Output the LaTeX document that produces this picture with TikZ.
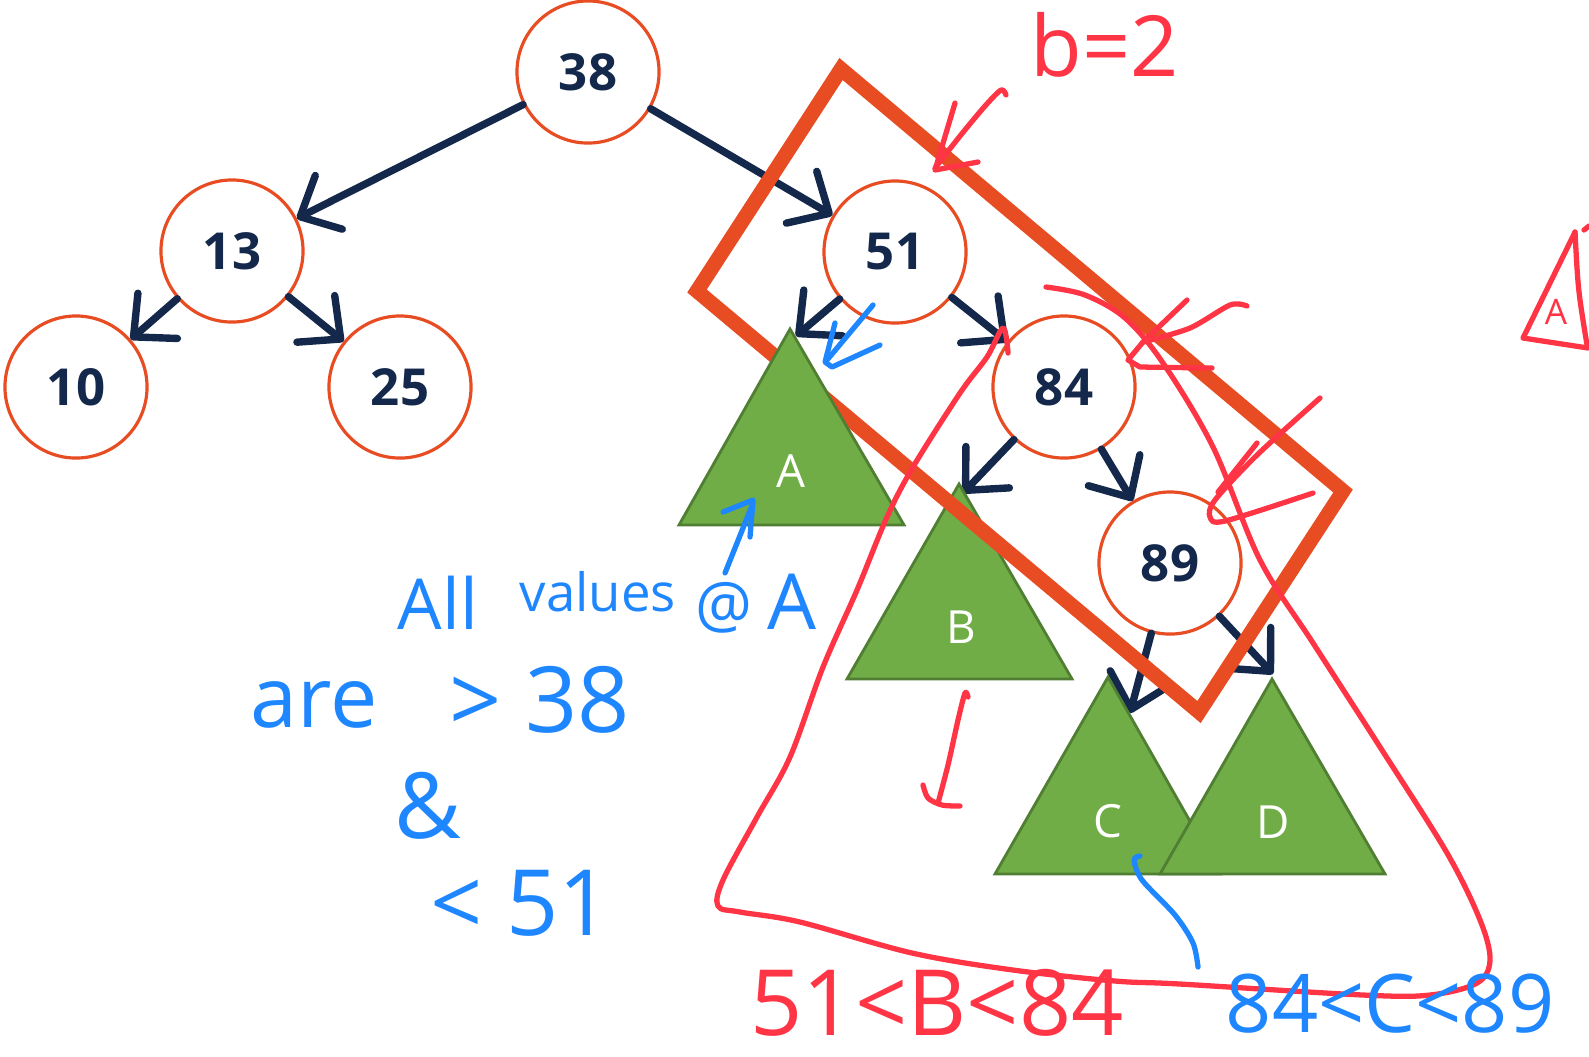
\documentclass[tikz,border=0pt]{standalone}
\usepackage{fontspec}
\setmainfont{Open Sans}
\usetikzlibrary{arrows.meta}

\definecolor{keyorange}{HTML}{E84C22}
\definecolor{navy}{HTML}{13284B}
\definecolor{leafgreen}{HTML}{70AD47}
\definecolor{leafedge}{HTML}{507E32}
\definecolor{inkred}{HTML}{FF3546}
\definecolor{inkblue}{HTML}{1E86FF}

\begin{document}
\begin{tikzpicture}[x=0.01cm, y=-0.01cm,
		key/.style={circle, draw=keyorange, line width=0.9pt, fill=white, minimum size=1.42cm, inner sep=0pt, text=navy, font=\fontsize{14.5}{16}\selectfont\bfseries},
		edge/.style={navy, line width=2.1pt, line cap=round, -{Straight Barb[round, length=0.32cm, width=0.6cm]}},
		leaf/.style={fill=leafgreen, draw=leafedge, line width=0.8pt},
		leaflabel/.style={text=white, inner sep=0pt, font=\fontsize{13}{15}\selectfont},
		band/.style={draw=keyorange, line width=4.2pt},
		redink/.style={inkred, line width=1.5pt, line cap=round, line join=round},
		blueink/.style={inkblue, line width=1.5pt, line cap=round, line join=round},
		redtext/.style={text=inkred, inner sep=0pt},
		bluetext/.style={text=inkblue, inner sep=0pt}]
		\useasboundingbox (0,0) rectangle (1589,1056);

		\node[key](N) at (588,72){38};
		\node[key](L) at (232,251){13};
		\node[key](LL) at (76,387){10};
		\node[key](LR) at (400,387){25};
		\node[key](R) at (895,252){51};
		\node[key](RR) at (1064,387){84};
		\node[key](RRR) at (1170,563){89};

		\coordinate(RL) at (796,336);
		\coordinate(RRL) at (963,493);
		\coordinate(RRRL) at (1130,713);
		\coordinate(RRRR) at (1273,674);

		\draw[edge] (N) -- (L);
		\draw[edge] (N) -- (R);
		\draw[edge] (L) -- (LL);
		\draw[edge] (L) -- (LR);
		\draw[edge] (R) -- (RL);
		\draw[edge] (R) -- (RR);
		\draw[edge] (RR) -- (RRL);
		\draw[edge] (RR) -- (RRR);
		\draw[edge] (RRR) -- (RRRL);
		\draw[edge] (RRR) -- (RRRR);

		\filldraw[leaf] (959,484) -- (1072,679) -- (847,679) -- cycle;
		\node[leaflabel](Bname) at (961,627){B};
		\filldraw[leaf] (1108,677) -- (1220,874) -- (995,874) -- cycle;
		\node[leaflabel](Cname) at (1108,821){C};
		\filldraw[leaf] (1272,679) -- (1385,874) -- (1160,874) -- cycle;
		\node[leaflabel](Dname) at (1273,822){D};

		\draw[band] (841,69) -- (1343,491) -- (1199,712) -- (697,291) -- cycle;

		\filldraw[leaf] (790,329) -- (904,525) -- (679,525) -- cycle;
		\node[leaflabel](Aname) at (791,471){A};

		\draw[redink] plot[smooth, tension=0.55] coordinates {(1046,287) (1085,295) (1125,318) (1163,363) (1213,447) (1260,560) (1313,643) (1380,747) (1447,853) (1480,920) (1490,960) (1477,983) (1430,995) (1363,995) (1180,984) (1115,981) (1013,970) (912,953) (800,922) (740,912) (718,906) (723,880) (757,817) (790,757) (823,667) (857,590) (887,517) (913,467) (960,393) (987,357) (1003,328) (1008,353)};

		\node[redtext, font=\fontsize{24}{26}\selectfont](bal) at (1105,45){b=2};
		\draw[redink] plot[smooth] coordinates {(1006,95) (1001,90) (985,106) (960,136) (935,168)};
		\draw[redink] (955,103) -- (935,170) -- (978,162);

		\draw[redink] (1187,300) -- (1143,342) -- (1128,360) -- (1140,367) -- (1212,368);
		\draw[redink] plot[smooth] coordinates {(1247,306) (1230,305) (1190,328) (1143,342)};
		\draw[redink] plot[smooth] coordinates {(1320,398) (1257,455) (1215,500) (1210,517) (1225,521) (1313,493)};
		\draw[redink] (1257,443) -- (1218,492);

		\draw[redink] (1575,232) -- (1523,338) -- (1588,348);
		\draw[redink] (1575,232) .. controls (1578,290) .. (1587,345);
		\draw[redink] (1584,230) -- (1589,226);
		\node[redtext, font=\fontsize{10}{11}\selectfont](Amark) at (1556,312){A};

		\draw[redink] plot[smooth] coordinates {(968,697) (965,693) (958,720) (948,765) (938,803)};
		\draw[redink] plot[smooth] coordinates {(923,785) (928,798) (942,805) (960,806)};

		\node[redtext, font=\fontsize{26}{28}\selectfont](Brange) at (937,1003){51<B<84};

		\draw[blueink] (873,305) -- (827,360);
		\draw[blueink] (835,323) -- (825,362) -- (832,367) -- (880,345);
		\draw[blueink] (725,573) -- (753,503);
		\draw[blueink] (723,512) -- (753,500) -- (750,537);
		\draw[blueink] plot[smooth] coordinates {(1140,856) (1134,860) (1142,880) (1175,915) (1193,943) (1198,967)};

		\node[bluetext, font=\fontsize{20}{22}\selectfont](wAll) at (438,603){All};
		\node[bluetext, font=\fontsize{15}{17}\selectfont](wValues) at (598,592){values};
		\node[bluetext, font=\fontsize{18}{20}\selectfont](wAt) at (724,608){@};
		\node[bluetext, font=\fontsize{22}{24}\selectfont](wA) at (792,602){A};
		\node[bluetext, font=\fontsize{24}{26}\selectfont](wAre) at (314,705){are};
		\node[bluetext, font=\fontsize{26}{28}\selectfont](wGt) at (540,700){> 38};
		\node[bluetext, font=\fontsize{26}{28}\selectfont](wAnd) at (428,806){\&};
		\node[bluetext, font=\fontsize{26}{28}\selectfont](wLt) at (521,903){< 51};
		\node[bluetext, font=\fontsize{23}{25}\selectfont](Crange) at (1390,1004){84<C<89};
	\end{tikzpicture}
\end{document}
